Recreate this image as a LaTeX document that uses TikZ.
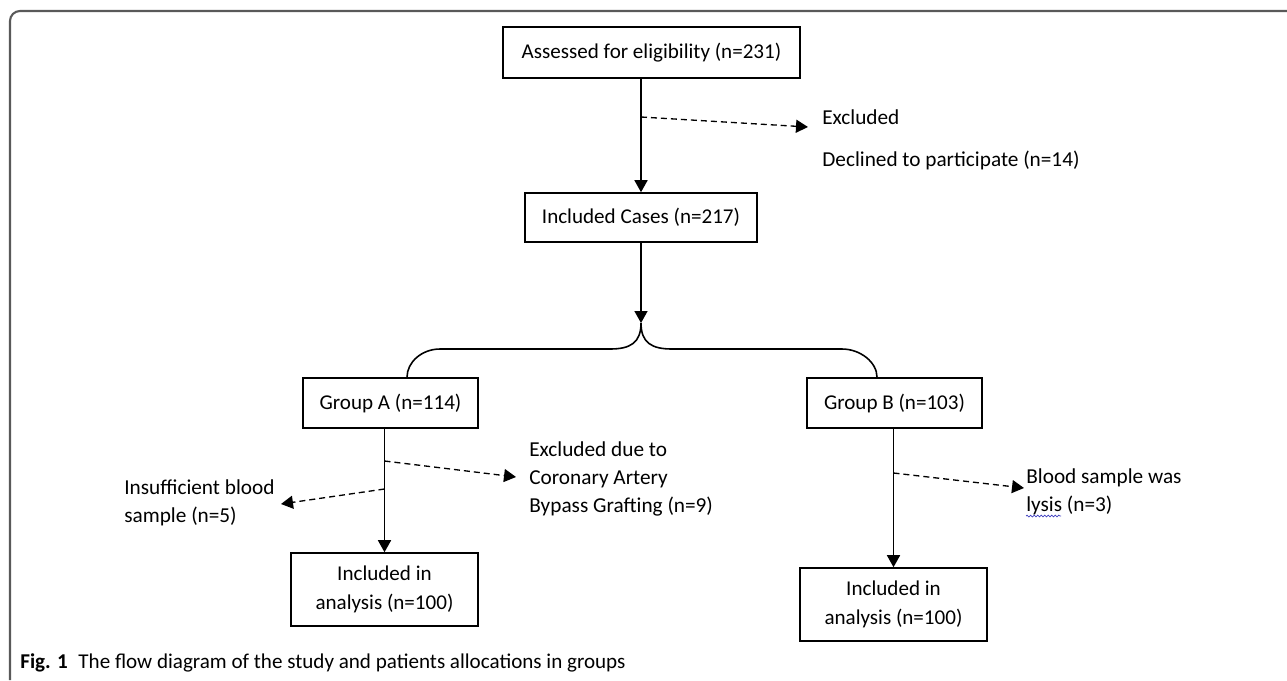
\documentclass[tikz,border=0pt]{standalone}
\usepackage{fontspec}
\setmainfont{Carlito}
\usetikzlibrary{arrows.meta}
\usetikzlibrary{decorations.pathmorphing}
\tikzset{
  box/.style={draw,line width=0.9pt,minimum height=1cm,align=center,
    font=\fontsize{12}{16.5}\selectfont},
  txt/.style={anchor=west,inner sep=0,align=left,
    font=\fontsize{12.1}{15.9}\selectfont},
  arr/.style={line width=0.9pt,-{Triangle[length=0.24cm,width=0.26cm]}},
  darr/.style={line width=0.75pt,dash pattern=on 0.12cm off 0.08cm,
    -{Triangle[length=0.24cm,width=0.26cm]}},
  link/.style={line width=0.9pt},
  frame/.style={draw=black!65,line width=1.2pt,rounded corners=0.2cm}
}

\begin{document}
\begin{tikzpicture}[x=0.02cm,y=-0.02cm]
    \useasboundingbox (0,0) rectangle (1287,680);
    \draw[frame] (10,680) -- (10,11) -- (1287,11);

    \node[box,minimum width=5.94cm,minimum height=1.02cm] (assess) at (651.5,52.5) {Assessed for eligibility (n=231)};
    \node[box,minimum width=4.64cm,minimum height=0.98cm] (incl) at (641,217.5) {Included Cases (n=217)};
    \node[box,minimum width=3.5cm] (grpA) at (390.5,403) {Group A (n=114)};
    \node[box,minimum width=3.5cm] (grpB) at (894.5,403) {Group B (n=103)};
    \node[box,minimum width=3.74cm,minimum height=1.46cm] (anaA) at (384.5,589.5) {Included in\\analysis (n=100)};
    \node[box,minimum width=3.74cm,minimum height=1.46cm] (anaB) at (893.5,604.5) {Included in\\analysis (n=100)};

    \node[txt] (excl) at (822,117) {Excluded};
    \node[txt] (decl) at (822,160) {Declined to participate (n=14)};
    \node[txt] (cabg) at (529,479) {Excluded due to\\Coronary Artery\\Bypass Grafting (n=9)};
    \node[txt] (insuf) at (124,503) {Insufficient blood\\sample (n=5)};
    \node[txt] (lysis) at (1026,492) {Blood sample was\\lysis (n=3)};
    \draw[blue!50!gray,line width=0.4pt,decorate,decoration={snake,amplitude=0.5pt,segment length=2pt}] (1026,516) -- (1061,516);

    % first exclusion
    \draw[arr] (incl.north |- assess.south) -- (incl.north);
    \coordinate (e1) at (641,117);
    \coordinate (e2) at (808,127);
    \draw[darr] (e1) -- (e2);

    % split into groups
    \coordinate (split) at (641,323);
    \draw[arr] (incl.south) -- (split);
    \draw[link] (split) .. controls (641,343) and (630,349) .. (610,349) -- (440,349) .. controls (422,349) and (407,362) .. ([xshift=0.33cm]grpA.north);
    \draw[link] (split) .. controls (641,343) and (652,349) .. (672,349) -- (842,349) .. controls (860,349) and (877,362) .. ([xshift=-0.35cm]grpB.north);

    % group A
    \draw[arr] (anaA.north |- grpA.south) -- (anaA.north);
    \coordinate (a1) at (384.5,461);
    \coordinate (a2) at (516,477);
    \coordinate (a3) at (384.5,489);
    \coordinate (a4) at (281,504);
    \draw[darr] (a1) -- (a2);
    \draw[darr] (a3) -- (a4);

    % group B
    \draw[arr] (anaB.north |- grpB.south) -- (anaB.north);
    \coordinate (b1) at (893.5,473);
    \coordinate (b2) at (1024,488);
    \draw[darr] (b1) -- (b2);

    \node[txt,font=\fontsize{12}{14}\selectfont] (cap) at (20,663) {\textbf{Fig. 1}\hspace{0.5em}The flow diagram of the study and patients allocations in groups};
\end{tikzpicture}
\end{document}
